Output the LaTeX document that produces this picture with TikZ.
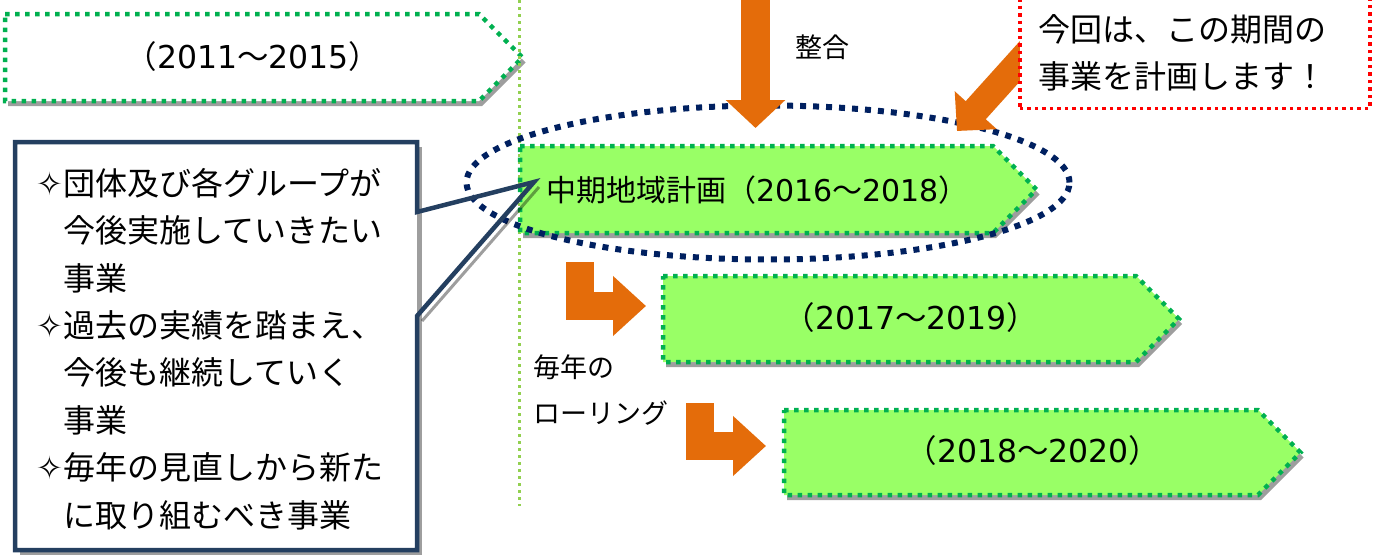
\documentclass[tikz,border=0pt]{standalone}
\usepackage{fontspec}
\setmainfont{Noto Sans CJK JP}
\newfontfamily\djv{DejaVu Sans}
\usetikzlibrary{shapes.geometric,arrows.meta}
\definecolor{orng}{HTML}{E46C0A}
\definecolor{gfill}{HTML}{99FF66}
\definecolor{gdot}{HTML}{00B050}
\definecolor{lgreen}{HTML}{92D050}
\definecolor{navy}{HTML}{002060}
\definecolor{cnavy}{HTML}{243F60}
\definecolor{rred}{HTML}{FF0000}
\newcommand\mystar{{\djv ✧}}
\newcommand\yrs[2]{（{\djv #1}～{\djv #2}）}
\tikzset{
  pshadow/.style={fill=black,opacity=0.38},
  pborder/.style={draw=gdot,line width=4.5pt,dash pattern=on 4.5pt off 5.5pt},
  vline/.style={draw=lgreen,line width=3pt,dash pattern=on 3pt off 4pt},
  ell/.style={ellipse,draw=navy,line width=6pt,dash pattern=on 6pt off 7pt,minimum width=603pt,minimum height=154pt,inner sep=0pt},
  oarrow/.style={draw=orng,line width=#1,line join=miter},
  oarrow/.default=28pt,
  callout/.style={draw=cnavy,line width=4.5pt,line join=miter},
  redbox/.style={draw=rred,fill=white,line width=3.5pt,dash pattern=on 3.5pt off 4pt,minimum width=350pt,minimum height=140pt,inner sep=0pt},
  yr/.style={font=\fontsize{30}{36}\selectfont,inner sep=0pt},
  yrb/.style={font=\fontsize{31.5}{36}\selectfont,inner sep=0pt},
  lbl/.style={font=\fontsize{27}{46}\selectfont,inner sep=0pt},
  ctext/.style={font=\fontsize{32}{47.4}\selectfont,inner sep=0pt},
  rtext/.style={font=\fontsize{32}{47}\selectfont,inner sep=0pt},
}
\newcommand\pentagon[5]{%
  \fill[pshadow] ({#2+3},{#3+5}) -- ({#4+3},{#3+5}) -- ({#4+3+(#5-#3)/2},{(#3+#5)/2+5}) -- ({#4+3},{#5+5}) -- ({#2+3},{#5+5}) -- cycle;
  \draw[pborder,fill=#1] (#2,#3) -- (#4,#3) -- ({#4+(#5-#3)/2},{(#3+#5)/2}) -- (#4,#5) -- (#2,#5) -- cycle;
}
\begin{document}
\begin{tikzpicture}[x=1pt,y=-1pt]
\useasboundingbox (0,0) rectangle (1378,554);
\clip (0,0) rectangle (1378,554);
\fill[white] (0,0) rectangle (1378,554);
% top-left pentagon
\pentagon{white}{5}{14}{479}{101}
% vertical dotted line
\coordinate (vtop) at (519,0);
\coordinate (vbot) at (519,506);
\draw[vline] (vtop) -- (vbot);
% green pentagons
\pentagon{gfill}{520}{146}{993}{233}
\pentagon{gfill}{663}{276}{1136}{362}
\pentagon{gfill}{784}{410}{1258}{495}
% ellipse
\node[ell] (focus) at (768,182.5) {};
% orange arrows
\coordinate (ts) at (755.5,-2);
\coordinate (te) at (755.5,128);
\draw[oarrow=29pt,-{Triangle[length=28pt,width=58pt]}] (ts) -- (te);
\coordinate (b1s) at (579.5,262);
\coordinate (b1e) at (646,306);
\draw[oarrow=28pt,-{Triangle[length=33pt,width=58pt]}] (b1s) |- (b1e);
\coordinate (b2s) at (699.5,403);
\coordinate (b2e) at (766,446);
\draw[oarrow=28pt,-{Triangle[length=33pt,width=58pt]}] (b2s) |- (b2e);
\coordinate (ds) at (1030,50);
\coordinate (de) at (957,131);
\draw[oarrow=27pt,-{Triangle[length=28pt,width=55pt]}] (ds) -- (de);
% red box
\node[redbox,anchor=south west] (rb) at (1018,110) {};
\node[rtext,anchor=west,align=left] (rt) at (1038,53) {今回は、この期間の\\事業を計画します！};
% callout
\fill[pshadow] (20,147) rectangle (422,560);
\draw[pshadow,draw=black,fill=none,line width=3pt] (539,187) -- (422,321);
\fill[white] (15,142) rectangle (417,550);
\draw[callout] (417,212) -- (534,182) -- (417,316) -- (417,550) -- (15,550) -- (15,142) -- (417,142) -- cycle;
\node[ctext,anchor=west,align=left] (ct) at (36,349) {\mystar 団体及び各グループが\\\phantom{\mystar}今後実施していきたい\\\phantom{\mystar}事業\\\mystar 過去の実績を踏まえ、\\\phantom{\mystar}今後も継続していく\\\phantom{\mystar}事業\\\mystar 毎年の見直しから新た\\\phantom{\mystar}に取り組むべき事業};
% labels
\node[yrb] (y1) at (253,57) {\yrs{2011}{2015}};
\node[yr,anchor=west] (y2) at (546,190) {中期地域計画\yrs{2016}{2018}};
\node[yrb] (y3) at (911,318) {\yrs{2017}{2019}};
\node[yrb] (y4) at (1033,451) {\yrs{2018}{2020}};
\node[lbl] (seigo) at (822,47) {整合};
\node[lbl,anchor=west,align=left] (roll) at (533,390) {毎年の\\ローリング};
\end{tikzpicture}
\end{document}
